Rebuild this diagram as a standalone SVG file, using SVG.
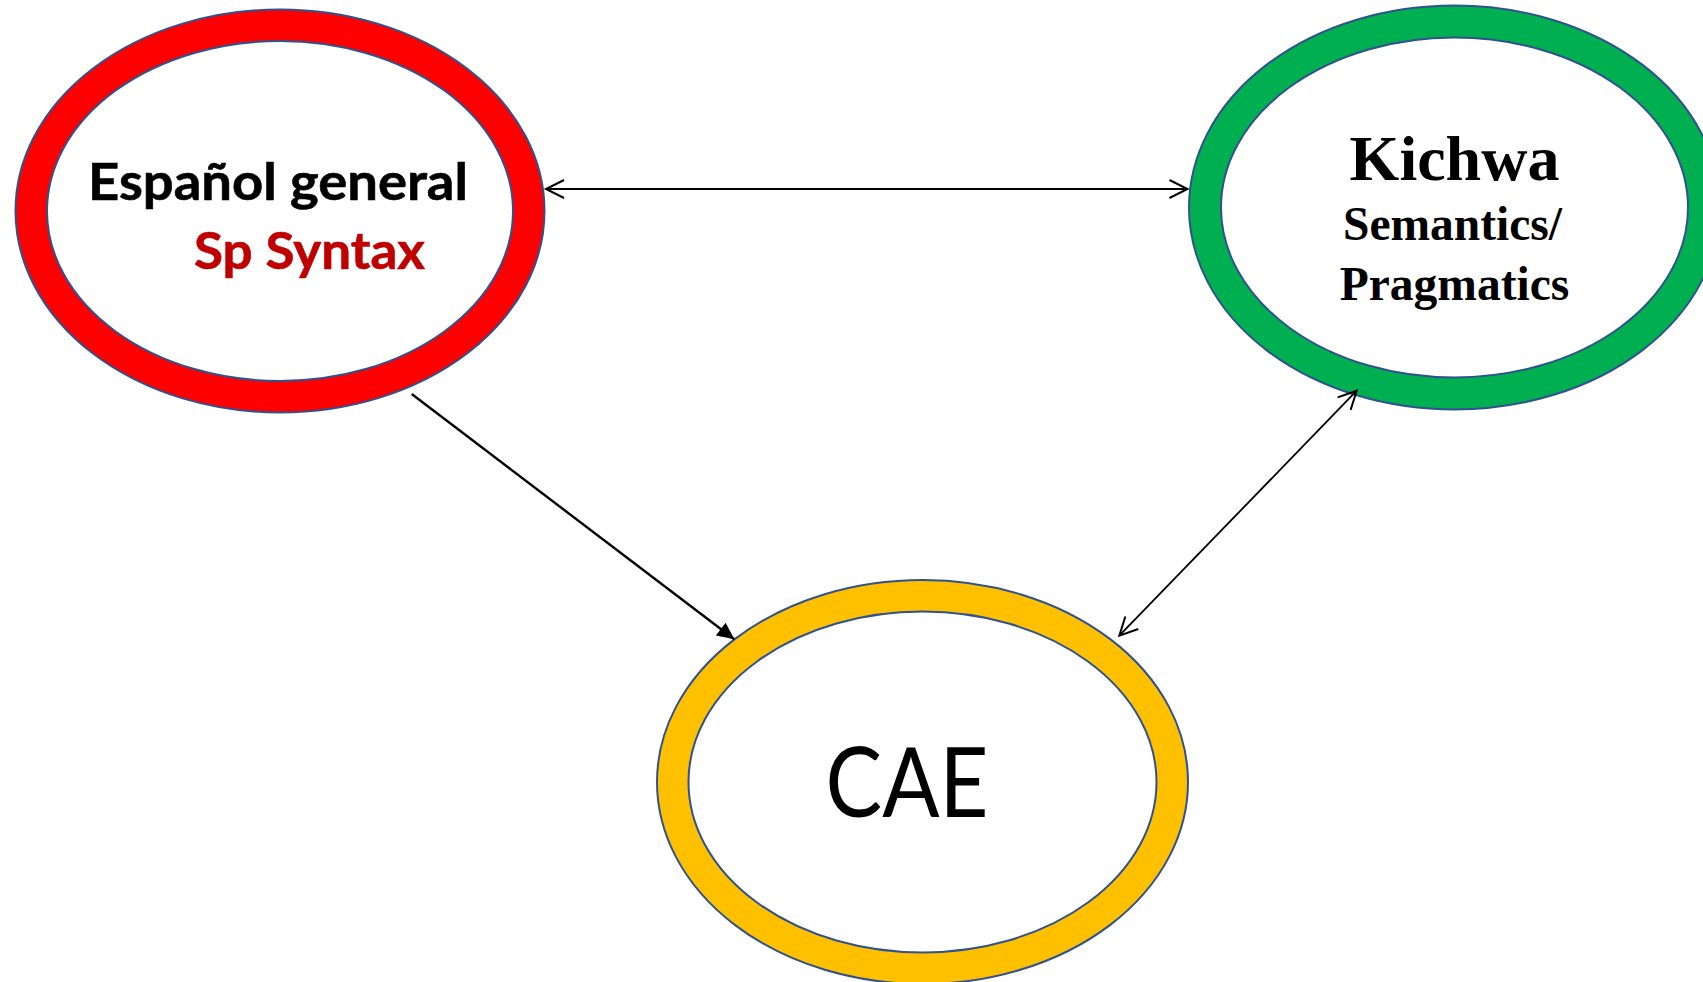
<svg xmlns="http://www.w3.org/2000/svg" width="1703" height="982" viewBox="0 0 1703 982">
  <style>
    .outline { stroke: #2F528F; stroke-width: 2; }
    .inner { fill: #FFFFFF; stroke: #2F528F; stroke-width: 2; }
    .conn { stroke: #000000; fill: none; }
    .sans { font-family: Lato, "Open Sans", "Liberation Sans", sans-serif; }
    .serif { font-family: "Liberation Serif", "Times New Roman", serif; font-weight: bold; fill: #000000; }
  </style>
  <defs>
    <marker id="openArrow" markerUnits="userSpaceOnUse" markerWidth="24" markerHeight="24" viewBox="-20 -12 24 24" refX="0" refY="0" orient="auto-start-reverse">
      <path d="M-18,-9 L0,0 L-18,9" fill="none" stroke="#000000" stroke-width="2"/>
    </marker>
    <marker id="solidArrow" markerUnits="userSpaceOnUse" markerWidth="24" markerHeight="24" viewBox="-20 -12 24 24" refX="0" refY="0" orient="auto">
      <path d="M0,0 L-17,-8 L-17,8 Z" fill="#000000"/>
    </marker>
  </defs>
  <rect width="1703" height="982" fill="#FFFFFF"/>

  <g id="node-espanol">
    <ellipse cx="280" cy="211" rx="264.5" ry="201.5" fill="#FF0000" class="outline"/>
    <ellipse cx="280" cy="211" rx="233" ry="170" class="inner"/>
    <text x="278" y="200" class="sans" font-size="52" font-weight="bold" fill="#000000" text-anchor="middle" textLength="380" lengthAdjust="spacingAndGlyphs" stroke="#000000" stroke-width="0.6">Español general</text>
    <text x="309.5" y="269" class="sans" font-size="51" font-weight="bold" fill="#C00000" text-anchor="middle" textLength="231" lengthAdjust="spacingAndGlyphs" stroke="#C00000" stroke-width="0.6">Sp Syntax</text>
  </g>

  <g id="node-kichwa">
    <ellipse cx="1454.5" cy="207.5" rx="265.5" ry="202" fill="#00B050" class="outline"/>
    <ellipse cx="1454.5" cy="207.5" rx="233.5" ry="170" class="inner"/>
    <text x="1454.5" y="180" class="serif" font-size="64" text-anchor="middle">Kichwa</text>
    <text x="1452.5" y="240" class="serif" font-size="47.5" text-anchor="middle">Semantics/</text>
    <text x="1454.5" y="300" class="serif" font-size="47.5" text-anchor="middle">Pragmatics</text>
  </g>

  <g id="node-cae">
    <ellipse cx="922.5" cy="782" rx="265.5" ry="202" fill="#FFC000" class="outline"/>
    <ellipse cx="922.5" cy="782" rx="234" ry="170.5" class="inner"/>
    <text x="907" y="817" class="sans" font-size="96" fill="#000000" text-anchor="middle" textLength="163" lengthAdjust="spacingAndGlyphs">CAE</text>
  </g>

  <g id="connectors">
    <line x1="546" y1="189" x2="1187.5" y2="189" class="conn" stroke-width="2" marker-start="url(#openArrow)" marker-end="url(#openArrow)"/>
    <line x1="411.7" y1="394" x2="734.3" y2="639.3" class="conn" stroke-width="2.4" marker-end="url(#solidArrow)"/>
    <line x1="1119.3" y1="635.7" x2="1356.7" y2="390.7" class="conn" stroke-width="1.8" marker-start="url(#openArrow)" marker-end="url(#openArrow)"/>
  </g>
</svg>
